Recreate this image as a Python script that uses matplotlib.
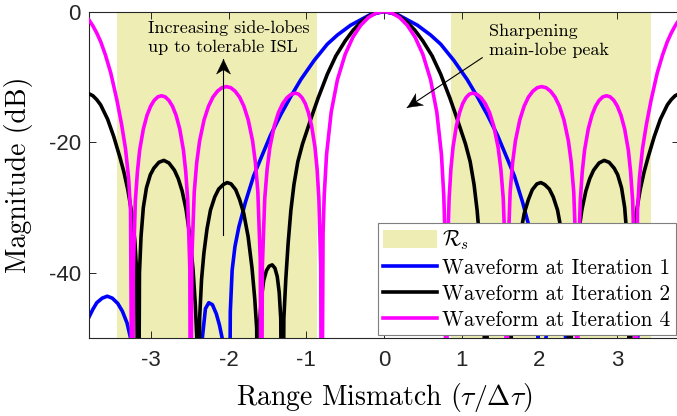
import numpy as np
import matplotlib
matplotlib.use("Agg")
import matplotlib.pyplot as plt
from matplotlib.path import Path
from matplotlib.markers import MarkerStyle
from matplotlib.transforms import Affine2D

# ---------------- data (half curves, x <= 0; mirrored about 0) ----------------
mag_x = [-3.80, -3.75, -3.70, -3.65, -3.59, -3.52, -3.44, -3.38, -3.33, -3.29, -3.265, -3.24,
         -3.229, -3.203, -3.176, -3.147, -3.100, -3.053, -3.006, -2.960, -2.913, -2.866,
         -2.819, -2.772, -2.725, -2.678, -2.631, -2.584, -2.554, -2.528, -2.501, -2.49,
         -2.476, -2.444, -2.412, -2.375, -2.318, -2.26, -2.203, -2.145, -2.088, -2.03,
         -1.974, -1.918, -1.861, -1.805, -1.749, -1.693, -1.657, -1.625, -1.594, -1.58,
         -1.567, -1.536, -1.505, -1.47, -1.415, -1.36, -1.305, -1.25, -1.195, -1.14,
         -1.098, -1.056, -1.014, -0.973, -0.931, -0.889, -0.862, -0.839, -0.815, -0.805,
         -0.785, -0.77, -0.74, -0.68, -0.60, -0.50, -0.40, -0.30, -0.20, -0.10, 0.0]
mag_y = [-1.3, -2.2, -3.3, -4.6, -6.6, -9.4, -13.6, -17.3, -21.0, -25.5, -30.5, -80,
         -39.4, -29.0, -24.5, -21.2, -18.0, -15.9, -14.5, -13.6, -13.07, -12.9,
         -13.07, -13.6, -14.5, -15.9, -18.0, -21.2, -24.5, -29.0, -39.4, -80,
         -38.0, -27.6, -23.1, -19.8, -16.6, -14.5, -13.1, -12.2, -11.67, -11.5,
         -11.67, -12.2, -13.1, -14.5, -16.6, -19.8, -23.1, -27.6, -38.0, -80,
         -39.0, -28.6, -24.1, -20.8, -17.6, -15.5, -14.1, -13.2, -12.67, -12.5,
         -12.67, -13.2, -14.1, -15.5, -17.6, -20.8, -24.1, -28.6, -39.0, -80,
         -34.0, -28.2, -21.9, -15.4, -10.45, -6.55, -3.92, -2.11, -0.91, -0.22, 0.0]

blk_x = [-3.80, -3.75, -3.70, -3.65, -3.56, -3.48, -3.40, -3.35, -3.30, -3.25, -3.21, -3.185, -3.165,
         -3.15, -3.13, -3.10, -3.06, -3.01, -2.965, -2.90, -2.836, -2.77, -2.70, -2.65, -2.60,
         -2.55, -2.50, -2.46, -2.43, -2.41, -2.39,
         -2.375, -2.35, -2.32, -2.28, -2.235, -2.18, -2.13, -2.07, -2.02, -1.97, -1.91, -1.86,
         -1.807, -1.75, -1.70, -1.665, -1.64, -1.62,
         -1.605, -1.58, -1.55, -1.515, -1.48, -1.44, -1.405, -1.375, -1.35, -1.33, -1.31,
         -1.29, -1.265, -1.235, -1.20, -1.16, -1.11, -1.05, -1.00, -0.935, -0.85, -0.73,
         -0.62, -0.50, -0.40, -0.30, -0.20, -0.10, 0.0]
blk_y = [-12.6, -12.9, -13.5, -14.3, -16.5, -19.2, -22.4, -24.6, -27.3, -30.8, -35.0, -40.0, -80,
         -40.0, -34.5, -30.0, -27.0, -25.0, -24.0, -23.1, -22.8, -23.2, -24.3, -25.6, -27.5,
         -30.3, -34.5, -39.5, -45.0, -50.5, -80,
         -47.0, -41.0, -37.0, -33.3, -30.4, -28.4, -27.2, -26.5, -26.2, -26.4, -27.3, -28.8,
         -30.9, -34.5, -39.3, -44.0, -48.5, -80,
         -48.0, -44.0, -41.2, -39.7, -39.0, -38.8, -39.3, -40.6, -43.0, -47.0, -80,
         -47.0, -41.0, -35.5, -30.5, -26.5, -23.0, -20.3, -18.5, -16.2, -13.3, -9.6,
         -6.8, -4.5, -2.9, -1.65, -0.75, -0.19, 0.0]

blu_x = [-3.80, -3.75, -3.70, -3.63, -3.565, -3.50, -3.43, -3.37, -3.31, -3.265, -3.23, -3.19,
         -2.80, -2.42, -2.38, -2.34, -2.30, -2.257, -2.21, -2.16, -2.12, -2.085, -2.04, -1.995,
         -1.98, -1.956, -1.92, -1.87, -1.785, -1.68, -1.59, -1.46, -1.33, -1.20, -1.07, -0.90,
         -0.73, -0.60, -0.43, -0.18, 0.0]
blu_y = [-46.8, -45.6, -44.6, -43.9, -43.6, -43.9, -44.7, -45.9, -47.7, -50.0, -53.0, -60.0,
         -60.0, -60.0, -54.0, -50.0, -45.5, -44.6, -44.9, -46.3, -48.0, -50.0, -54.0, -80,
         -46.0, -39.6, -36.0, -33.0, -29.2, -25.2, -22.6, -18.9, -15.8, -13.0, -10.4, -7.5,
         -5.0, -3.6, -2.1, -0.5, 0.0]

region_lo = [-3.445, 0.865]
region_hi = [-0.865, 3.445]

labels = [r"$\mathcal{R}_s$", "Waveform at Iteration 1", "Waveform at Iteration 2",
          "Waveform at Iteration 4"]
xticks = [-3, -2, -1, 0, 1, 2, 3]
yticks = [-40, -20, 0]


def mirror(x, y):
    x = np.asarray(x, float)
    y = np.asarray(y, float)
    return np.concatenate([x, -x[::-1][1:]]), np.concatenate([y, y[::-1][1:]])


plt.rcParams['mathtext.fontset'] = 'cm'
plt.rcParams['axes.unicode_minus'] = False
plt.rcParams['axes.formatter.use_mathtext'] = False

fig = plt.figure(figsize=(6.77, 4.16), dpi=100)
ax = fig.add_axes([89 / 677, 78 / 416, 590 / 677, 326.5 / 416])

shade = '#EEEEB4'
for i, (lo, hi) in enumerate(zip(region_lo, region_hi)):
    ax.axvspan(lo, hi, color=shade, lw=0, zorder=0, label=labels[0] if i == 0 else None)

lw = 2.6
bx, by = mirror(blu_x, blu_y)
kx, ky = mirror(blk_x, blk_y)
mx, my = mirror(mag_x, mag_y)
ax.plot(bx, by, color='#0000FF', lw=lw, label=labels[1], zorder=2, solid_joinstyle='round')
ax.plot(kx, ky, color='black', lw=lw, label=labels[2], zorder=3, solid_joinstyle='round')
ax.plot(mx, my, color='#FF00FF', lw=lw, label=labels[3], zorder=4, solid_joinstyle='round')

ax.set_xlim(-3.8, 3.8)
ax.set_ylim(-50, 0)
ax.set_xticks(xticks)
ax.set_yticks(yticks)
ax.set_xticklabels([str(t) for t in xticks])
ax.set_yticklabels([str(t) for t in yticks])
for lab in ax.get_xticklabels() + ax.get_yticklabels():
    lab.set_family('Liberation Sans')
    lab.set_fontsize(16)
    lab.set_color('#262626')
ax.tick_params(direction='in', top=True, right=True, length=5, width=0.7, color='#262626')
ax.tick_params(axis='x', pad=9)
ax.tick_params(axis='y', pad=6)
for s in ax.spines.values():
    s.set_color('#262626')
    s.set_linewidth(0.8)

ax.set_xlabel(r"Range Mismatch ($\tau/\Delta\tau$)", family='cmr10', fontsize=20)
ax.set_ylabel("Magnitude (dB)", family='cmr10', fontsize=20)
ax.xaxis.set_label_coords(0.5, -0.133)
ax.yaxis.set_label_coords(-0.095, 0.5)

ax.text(-3.045, -1.35, "Increasing side-lobes\nup to tolerable ISL", family='cmr10',
        fontsize=13, ha='left', va='top', linespacing=1.25, zorder=6)
ax.text(1.35, -1.9, "Sharpening\nmain-lobe peak", family='cmr10',
        fontsize=13, ha='left', va='top', linespacing=1.25, zorder=6)

# arrows: thin shaft + notched filled head (marker rotated to the shaft direction)
head_path = Path([(0, 0), (-1, 0.48), (-0.7, 0), (-1, -0.48), (0, 0)],
                 [Path.MOVETO, Path.LINETO, Path.LINETO, Path.LINETO, Path.CLOSEPOLY])
arrows = [((-2.07, -34.3), (-2.07, -7.2)), ((1.265, -7.08), (0.3, -14.7))]
for (x0, y0), (x1, y1) in arrows:
    ax.plot([x0, x1], [y0, y1], color='black', lw=0.8, zorder=6)
    p0 = ax.transData.transform((x0, y0))
    p1 = ax.transData.transform((x1, y1))
    ang = np.degrees(np.arctan2(p1[1] - p0[1], p1[0] - p0[0]))
    m = MarkerStyle(head_path, transform=Affine2D().rotate_deg(ang))
    ax.plot([x1], [y1], marker=m, ms=21, color='black', mec='black', mew=0.3, zorder=7)

leg = ax.legend(loc='lower right', bbox_to_anchor=(0.995, 0.009), prop={'family': 'cmr10', 'size': 15.3},
                frameon=True, fancybox=False, framealpha=1, edgecolor='#7f7f7f',
                handlelength=2.55, handleheight=0.9, handletextpad=0.25, labelspacing=0.27,
                borderpad=0.25, borderaxespad=0)
leg.get_frame().set_linewidth(0.8)
leg.set_zorder(10)

fig.savefig("out.png", dpi=100)
